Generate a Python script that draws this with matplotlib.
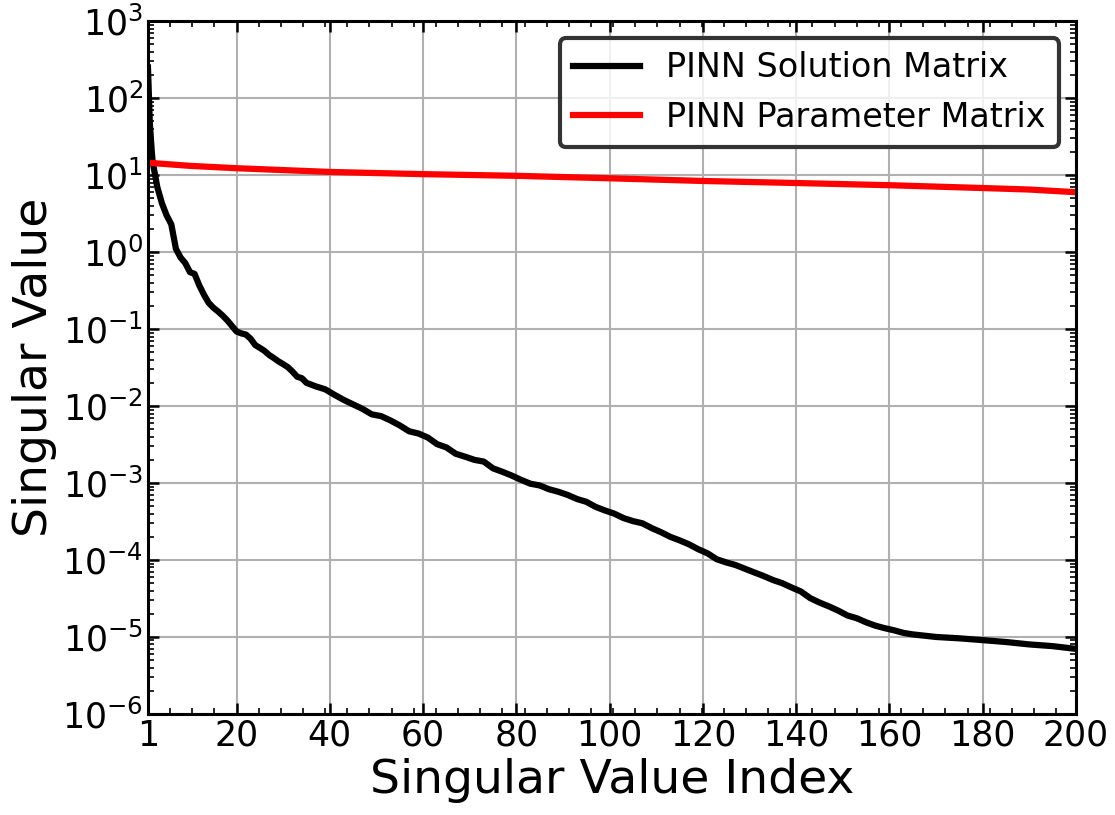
import numpy as np
import matplotlib
matplotlib.use('Agg')
import matplotlib.pyplot as plt
from matplotlib.ticker import AutoMinorLocator

# singular values
idx_sol = [1, 1.4, 1.8, 2, 3, 4, 5, 6, 7, 8, 9, 10, 11, 12, 13, 14, 15, 16, 17, 18, 19,
           20, 21, 22, 23, 24, 25, 26, 27, 28, 29, 30, 31, 32, 33, 34, 35, 37, 39, 41,
           43, 45, 47, 49, 51, 53, 55, 57, 59, 61, 63, 65, 67, 69, 71, 73, 75, 77, 79,
           81, 83, 85, 87, 89, 91, 93, 95, 97, 99, 101, 103, 105, 107, 109, 111, 113,
           115, 117, 119, 121, 123, 125, 127, 129, 131, 133, 135, 137, 139, 141, 143,
           145, 147, 149, 151, 153, 155, 157, 159, 161, 163, 165, 170, 175, 180, 185,
           190, 195, 200]
sv_sol = [250, 47, 21, 15, 7.0, 4.3, 3.0, 2.3, 1.1, 0.85, 0.72, 0.55, 0.52, 0.37, 0.28,
          0.22, 0.19, 0.17, 0.15, 0.13, 0.11, 0.093, 0.088, 0.085, 0.075, 0.062, 0.057,
          0.052, 0.046, 0.042, 0.038, 0.035, 0.032, 0.028, 0.024, 0.023, 0.020, 0.018,
          0.0165, 0.014, 0.012, 0.0105, 0.0092, 0.0078, 0.0074, 0.0065, 0.0056, 0.0047,
          0.0044, 0.0039, 0.0032, 0.0029, 0.0024, 0.0022, 0.0020, 0.0019, 0.00155,
          0.0014, 0.00125, 0.0011, 0.00098, 0.00093, 0.00083, 0.00077, 0.00070,
          0.00062, 0.00057, 0.00049, 0.00044, 0.00040, 0.00035, 0.00032, 0.00030,
          0.00026, 0.00023, 0.00020, 0.00018, 0.00016, 0.000138, 0.000122, 0.000102,
          9.3e-5, 8.6e-5, 7.7e-5, 6.9e-5, 6.2e-5, 5.5e-5, 5.0e-5, 4.4e-5, 3.9e-5,
          3.2e-5, 2.8e-5, 2.5e-5, 2.2e-5, 1.9e-5, 1.75e-5, 1.55e-5, 1.4e-5, 1.3e-5,
          1.22e-5, 1.13e-5, 1.08e-5, 1.0e-5, 9.6e-6, 9.1e-6, 8.6e-6, 8.0e-6, 7.6e-6,
          7.0e-6]

idx_par = [1, 10, 20, 40, 60, 80, 100, 120, 140, 160, 180, 190, 200]
sv_par = [14.5, 13.2, 12.3, 11.0, 10.3, 9.8, 9.1, 8.4, 7.9, 7.4, 6.8, 6.5, 6.0]

xticks = [1, 20, 40, 60, 80, 100, 120, 140, 160, 180, 200]

fig, ax = plt.subplots(figsize=(11.15, 8.15), dpi=100)
fig.subplots_adjust(left=0.1327, right=0.965, top=0.974, bottom=0.124)

ax.plot(idx_sol, sv_sol, color='black', lw=4.5, label='PINN Solution Matrix')
ax.plot(idx_par, sv_par, color='red', lw=4.5, label='PINN Parameter Matrix')

ax.set_yscale('log')
ax.set_xlim(1, 200)
ax.set_ylim(1e-6, 1e3)
ax.set_xticks(xticks)
ax.xaxis.set_minor_locator(AutoMinorLocator())
ax.set_yticks([10.0**k for k in range(-6, 4)])

ax.grid(True, which='major', color='#b0b0b0', lw=1.5)
ax.tick_params(which='both', direction='in', top=True, right=True, labelsize=25)
ax.tick_params(which='major', length=8, width=1.8)
ax.tick_params(which='minor', length=4, width=1.2)
for s in ax.spines.values():
    s.set_linewidth(2.2)

ax.set_xlabel('Singular Value Index', fontsize=34)
ax.set_ylabel('Singular Value', fontsize=34)

leg = ax.legend(loc='upper right', fontsize=24, fancybox=True)
frame = leg.get_frame()
frame.set_alpha(None)
frame.set_facecolor((1, 1, 1, 0.8))
frame.set_edgecolor('#333333')
frame.set_linewidth(3)

fig.savefig('out.png')
